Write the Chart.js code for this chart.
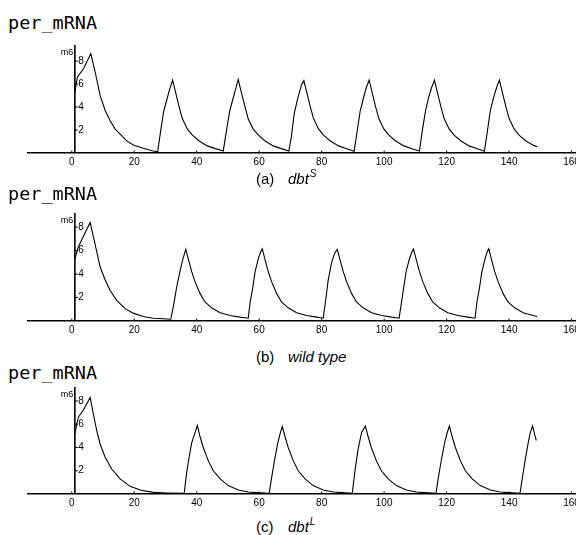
<!DOCTYPE html>
<html>
<head>
<meta charset="utf-8">
<script src="https://cdn.jsdelivr.net/npm/chart.js@4.4.0/dist/chart.umd.min.js"></script>
<style>
    html, body { margin: 0; padding: 0; background: #fff; width: 576px; height: 535px; overflow: hidden; }
    .quadro { position: relative; width: 576px; height: 535px; }
    canvas { position: absolute; left: 0; }
    .titulo { position: absolute; left: 8px; font-family: "DejaVu Sans Mono", monospace; font-size: 18.5px; line-height: 1; color: #000; white-space: pre; }
    .legenda { position: absolute; left: 256px; font-family: "Liberation Sans", Arial, sans-serif; font-size: 15px; line-height: 1; color: #000; white-space: nowrap; }
    .legenda i { position: absolute; left: 32px; top: 0; }
    .legenda sup { font-size: 10px; position: relative; top: -0.7em; vertical-align: baseline; margin-left: 1px; }
</style>
</head>
<body>
<div class="quadro">
    <div class="titulo" style="top:13.6px">per_mRNA</div>
    <canvas id="graficoA" width="620" height="131" style="top:40px"></canvas>
    <div class="legenda" style="top:171px">(a)<i>dbt<sup>S</sup></i></div>

    <div class="titulo" style="top:185px">per_mRNA</div>
    <canvas id="graficoB" width="620" height="131" style="top:208px"></canvas>
    <div class="legenda" style="top:348.5px">(b)<i>wild type</i></div>

    <div class="titulo" style="top:364.3px">per_mRNA</div>
    <canvas id="graficoC" width="620" height="130" style="top:382px"></canvas>
    <div class="legenda" style="top:519px">(c)<i>dbt<sup>L</sup></i></div>
</div>

<script>
// eixos comuns
const xTickValues = [0, 20, 40, 60, 80, 100, 120, 140, 160];
const yTickValues = [2, 4, 6, 8];
const yAxisLabel = 'm6';
const yAxisAt = 1;

// (a) dbt^S
const timeA = [1, 1.8, 3.8, 6.1, 7.5, 9.1, 10.7, 12.3, 13.9, 15.5, 17.6, 19.7, 22.9, 26.1, 27.5,
    28.4, 29.4, 30.5, 31.4, 32.3, 33.4, 34.4, 35.4, 37, 38.6, 40.8, 43.4, 46, 48.5,
    49.5, 50.6, 51.6, 52.5, 53.3, 54.4, 55.5, 56.5, 58.1, 59.7, 61.9, 64.5, 67.1, 69.5,
    70.3, 71.2, 72.2, 73.5, 74.3, 75.4, 76.4, 77.4, 79, 80.6, 82.8, 85.4, 88, 90.4,
    91.3, 92.3, 93.3, 94.3, 95.2, 96.3, 97.3, 98.3, 99.9, 101.5, 103.7, 106.3, 108.9, 111.3,
    112.2, 113.2, 114.2, 115.2, 116.1, 117.2, 118.2, 119.2, 120.8, 122.4, 124.6, 127.2, 129.8, 132.1,
    133, 134, 135, 136, 136.9, 138, 139, 140, 141.6, 143.2, 145.4, 148, 149];
const valueA = [5.3, 6.6, 7.35, 8.65, 7.05, 5.0, 3.7, 2.8, 2.08, 1.64, 1.05, 0.7, 0.41, 0.18, 0.12,
    1.8, 3.6, 4.7, 5.6, 6.35, 5.1, 4.0, 3.0, 2.1, 1.55, 1.05, 0.62, 0.38, 0.18,
    1.9, 3.7, 4.7, 5.6, 6.4, 5.15, 4.0, 2.96, 2.08, 1.58, 1.05, 0.62, 0.38, 0.18,
    1.4, 3.4, 4.6, 5.9, 6.3, 5.1, 4.0, 3.0, 2.1, 1.55, 1.05, 0.62, 0.37, 0.16,
    1.8, 3.6, 4.7, 5.7, 6.35, 5.1, 4.0, 3.0, 2.1, 1.55, 1.05, 0.62, 0.37, 0.17,
    1.9, 3.6, 4.8, 5.7, 6.35, 5.1, 4.0, 3.0, 2.1, 1.55, 1.05, 0.62, 0.37, 0.16,
    1.8, 3.7, 4.8, 5.7, 6.35, 5.1, 4.0, 3.0, 2.1, 1.55, 1.05, 0.64, 0.55];

// (b) wild type
const timeB = [1, 2.1, 3.7, 5.9, 6.9, 8, 9.1, 10.7, 12.3, 14.4, 17.1, 19.7, 22.9, 26.1, 29.3, 31.7,
    32.5, 33.6, 34.7, 35.5, 36.5, 37.4, 38.4, 39.5, 41.1, 42.7, 44.9, 47.5, 50.7, 53.9, 56.5,
    57.1, 57.9, 58.7, 59.7, 60.5, 61, 61.9, 62.9, 64, 65.6, 67.2, 69.4, 72, 75.2, 78.4, 80.5,
    81.2, 82.1, 83.2, 84.2, 85, 85.9, 86.9, 88, 89.6, 91.2, 93.4, 96, 99.2, 102.4, 104.8,
    105.5, 106.3, 107.1, 108.1, 108.9, 109.4, 110.3, 111.3, 112.4, 114, 115.6, 117.8, 120.4, 123.6, 126.8, 129.1,
    129.7, 130.5, 131.3, 132.3, 133, 133.5, 134.4, 135.4, 136.5, 138.1, 139.7, 141.9, 144.5, 147.7, 149];
const valueB = [5.3, 6.3, 7.2, 8.4, 7.2, 5.9, 4.6, 3.5, 2.6, 1.76, 1.05, 0.67, 0.39, 0.24, 0.19, 0.15,
    1.2, 2.9, 4.3, 5.2, 6.1, 5.2, 4.2, 3.33, 2.33, 1.6, 1.1, 0.7, 0.47, 0.33, 0.24,
    1.6, 2.76, 4.2, 5.3, 5.9, 6.14, 5.2, 4.2, 3.33, 2.33, 1.6, 1.1, 0.7, 0.47, 0.33, 0.24,
    1.6, 3.5, 5.0, 5.8, 6.1, 5.2, 4.2, 3.33, 2.33, 1.6, 1.1, 0.7, 0.47, 0.33, 0.24,
    1.5, 2.9, 4.3, 5.3, 5.9, 6.12, 5.2, 4.2, 3.33, 2.33, 1.6, 1.1, 0.7, 0.47, 0.33, 0.24,
    1.6, 2.8, 4.2, 5.3, 5.9, 6.15, 5.2, 4.2, 3.33, 2.33, 1.6, 1.1, 0.7, 0.47, 0.38];

// (c) dbt^L
const timeC = [1, 2.1, 3.7, 5.9, 6.9, 8, 9.1, 10.7, 12.8, 15.5, 18.7, 21.9, 26.1, 30.4, 36,
    36.8, 37.6, 38.4, 39.5, 40.2, 41.1, 42.1, 43.7, 45.3, 47.5, 50.1, 53.3, 56.5, 59.2, 63.2,
    64, 64.9, 65.9, 66.7, 67.4, 68.3, 69.3, 70.9, 72.5, 74.7, 77.3, 80.5, 83.7, 86.4, 89.8,
    90.7, 91.7, 92.8, 94, 94.9, 95.9, 97.5, 99.1, 101.3, 103.9, 107.1, 110.3, 113, 116.6,
    117.4, 118.3, 119.3, 120.1, 120.9, 121.8, 122.8, 124.4, 126, 128.2, 130.8, 134, 137.2, 139.9, 143.5,
    144.3, 145.2, 146.1, 146.8, 147.5, 148.2, 148.7];
const valueC = [5.2, 6.6, 7.2, 8.3, 6.9, 5.45, 4.3, 3.15, 2.15, 1.3, 0.66, 0.34, 0.14, 0.09, 0.05,
    1.86, 3.2, 4.4, 5.3, 5.9, 4.9, 4.0, 2.87, 2.0, 1.3, 0.72, 0.34, 0.17, 0.12, 0.06,
    1.43, 2.87, 4.3, 5.2, 5.8, 4.9, 4.0, 2.87, 2.0, 1.3, 0.72, 0.34, 0.17, 0.12, 0.06,
    2.1, 3.9, 5.3, 5.85, 4.9, 4.0, 2.87, 2.0, 1.3, 0.72, 0.34, 0.17, 0.12, 0.06,
    1.5, 2.9, 4.3, 5.2, 5.85, 4.9, 4.0, 2.87, 2.0, 1.3, 0.72, 0.34, 0.17, 0.12, 0.06,
    1.5, 3.0, 4.4, 5.3, 5.85, 5.1, 4.6];

// eixo vertical no estilo Mathematica (linha em t=1, rotulos a direita)
const eixoY = {
    id: 'eixoY',
    afterDraw(chart) {
        const {ctx, chartArea, scales: {x, y}} = chart;
        const px = x.getPixelForValue(yAxisAt);
        ctx.save();
        ctx.strokeStyle = '#000';
        ctx.fillStyle = '#000';
        ctx.lineWidth = 1.6;
        ctx.beginPath();
        ctx.moveTo(px, chartArea.top);
        ctx.lineTo(px, chartArea.bottom);
        ctx.stroke();

        ctx.lineWidth = 1;
        ctx.font = '10px "Liberation Sans", Arial, sans-serif';
        ctx.textAlign = 'left';
        ctx.textBaseline = 'middle';
        yTickValues.forEach(v => {
            const py = y.getPixelForValue(v);
            ctx.beginPath();
            ctx.moveTo(px, py);
            ctx.lineTo(px + 3, py);
            ctx.stroke();
            ctx.fillText(String(v), px + 3.5, py);
        });

        // marcas pequenas do eixo x, para cima
        xTickValues.forEach(v => {
            const qx = x.getPixelForValue(v);
            ctx.beginPath();
            ctx.moveTo(qx, chartArea.bottom);
            ctx.lineTo(qx, chartArea.bottom - 2.5);
            ctx.stroke();
        });

        ctx.font = '9px "Liberation Sans", Arial, sans-serif';
        ctx.textAlign = 'right';
        ctx.fillText(yAxisLabel, px - 1.5, chartArea.top + 7.5);
        ctx.restore();
    }
};

function criarGrafico(id, tempos, valores, yMax) {
    const contexto = document.getElementById(id).getContext('2d');
    return new Chart(contexto, {
        type: 'line',
        data: {
            datasets: [{
                data: tempos.map((t, i) => ({x: t, y: valores[i]})),
                borderColor: '#000',
                borderWidth: 1.1,
                pointRadius: 0,
                tension: 0,
                fill: false
            }]
        },
        options: {
            responsive: false,
            animation: false,
            devicePixelRatio: 1,
            layout: {padding: {left: 28, top: 5, right: 0, bottom: 0}},
            plugins: {legend: {display: false}, tooltip: {enabled: false}},
            scales: {
                x: {
                    type: 'linear',
                    min: -14,
                    max: 175.5,
                    grid: {display: false, drawTicks: false, tickLength: 0},
                    border: {display: true, color: '#000', width: 1.6},
                    afterBuildTicks: escala => {
                        escala.ticks = xTickValues.map(v => ({value: v}));
                    },
                    ticks: {
                        color: '#000',
                        font: {family: '"Liberation Sans", Arial, sans-serif', size: 10},
                        padding: 3,
                        maxRotation: 0,
                        autoSkip: false
                    }
                },
                y: {display: false, min: 0, max: yMax}
            }
        },
        plugins: [eixoY]
    });
}

criarGrafico('graficoA', timeA, valueA, 9.4);
criarGrafico('graficoB', timeB, valueB, 9.2);
criarGrafico('graficoC', timeC, valueC, 9.2);
</script>
</body>
</html>
